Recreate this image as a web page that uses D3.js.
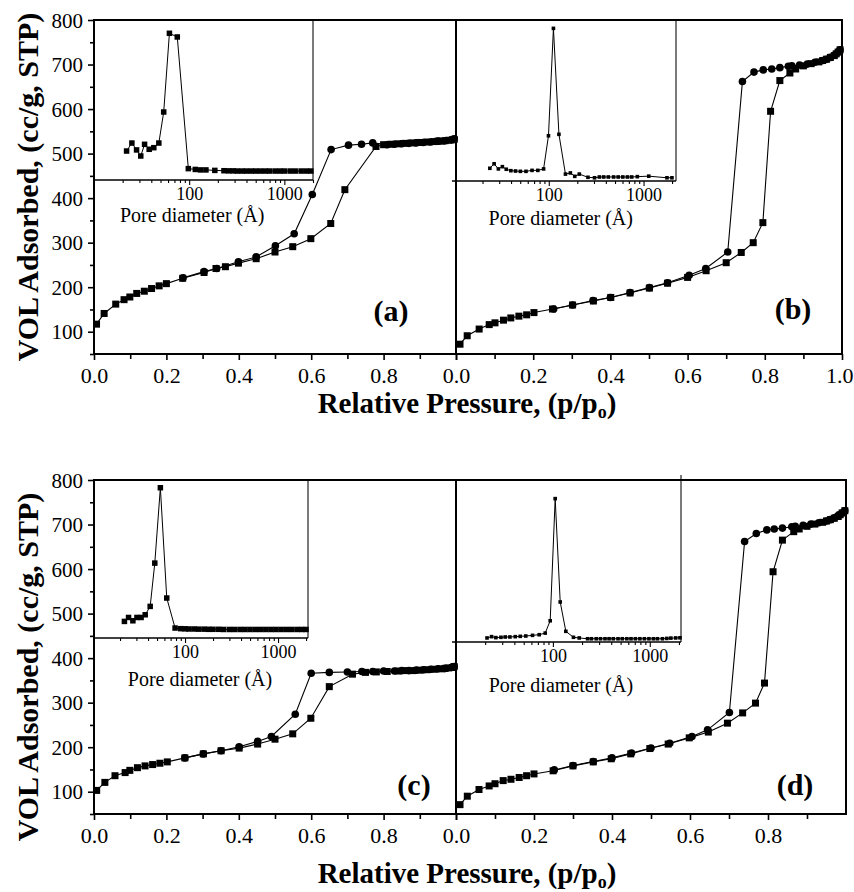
<!DOCTYPE html>
<html><head><meta charset="utf-8">
<script src="https://cdn.jsdelivr.net/npm/d3@7"></script>
<style>body{margin:0;background:#fff} svg text{font-family:"Liberation Serif","DejaVu Serif",serif;}</style>
</head><body><svg id="c" width="854" height="892"></svg>
<script>
// ---------- DATA ----------
// Main isotherms: relative pressure p/p0 and volume adsorbed (cc/g, STP)
const adsA_p = [0.007,0.028,0.06,0.083,0.099,0.118,0.139,0.159,0.18,0.2,0.245,0.304,0.337,0.363,0.399,0.448,0.5,0.549,0.599,0.654,0.693,0.779,0.80,0.82,0.84,0.86,0.88,0.90,0.92,0.94,0.95,0.96,0.97,0.98,0.99,0.995];
const adsA_v = [117,141,162,172,178,186,191,197,203,208,220,233,242,246,254,264,279,291,309,343,419,516,520,521,522,523,524,525,526,527,528,528,529,530,531,532];
const desA_p = [0.995,0.99,0.97,0.95,0.93,0.91,0.89,0.87,0.85,0.83,0.81,0.77,0.739,0.703,0.655,0.603,0.553,0.501,0.448,0.399,0.339,0.304,0.246];
const desA_v = [533,531,529,528,526,525,524,523,522,521,520,524,521,519,509,408,320,293,268,257,242,235,221];

const adsB_p = [0.0104,0.029,0.06,0.086,0.101,0.123,0.142,0.163,0.183,0.202,0.25,0.302,0.356,0.401,0.451,0.501,0.548,0.6,0.648,0.7,0.739,0.77,0.795,0.815,0.839,0.865,0.88,0.9,0.92,0.94,0.95,0.96,0.97,0.98,0.985,0.99,0.995];
const adsB_v = [72,91,106,116,120,126,131,135,138,143,151,160,169,177,187,198,209,222,237,255,278,300,345,595,664,681,690,697,702,706,709,712,716,720,724,728,733];
const desB_p = [0.995,0.99,0.98,0.97,0.96,0.95,0.93,0.91,0.89,0.87,0.861,0.839,0.818,0.796,0.772,0.742,0.704,0.647,0.604,0.548,0.501,0.451,0.4,0.355,0.302,0.253];
const desB_v = [733,728,721,716,712,709,705,701,699,697,696,693,690,688,683,662,279,242,227,210,199,188,177,170,160,151];

const adsC_p = [0.0074,0.03,0.058,0.086,0.099,0.12,0.141,0.162,0.182,0.2025,0.251,0.302,0.351,0.401,0.452,0.5,0.549,0.599,0.65,0.714,0.75,0.78,0.81,0.84,0.86,0.88,0.9,0.92,0.94,0.96,0.97,0.98,0.99,0.995];
const adsC_v = [103,121,136,143,148,154,158,161,164,167,176,185,192,198,207,218,230,265,336,364,368,369,370,371,372,372,373,374,375,376,377,378,379,381];
const desC_p = [0.995,0.99,0.97,0.95,0.93,0.91,0.89,0.87,0.85,0.83,0.8,0.77,0.74,0.7,0.65,0.6,0.556,0.49,0.452,0.401,0.351,0.302,0.251];
const desC_v = [381,380,377,376,375,374,373,372,372,371,371,370,370,369,368,366,274,224,213,201,192,185,176];

const adsD_p = [0.0103,0.029,0.059,0.085,0.1,0.121,0.141,0.162,0.181,0.2,0.249,0.3,0.352,0.398,0.448,0.497,0.544,0.598,0.647,0.696,0.735,0.768,0.791,0.813,0.837,0.866,0.88,0.9,0.92,0.94,0.95,0.96,0.97,0.98,0.985,0.99,0.997];
const adsD_v = [71,90,105,113,118,125,128,132,136,140,147,158,167,174,185,197,207,221,234,254,277,299,344,594,665,684,690,696,701,705,708,711,714,718,722,726,731];
const desD_p = [0.997,0.99,0.98,0.97,0.96,0.95,0.93,0.91,0.89,0.87,0.861,0.837,0.816,0.797,0.77,0.74,0.701,0.645,0.605,0.548,0.5,0.45,0.4,0.352,0.3,0.252];
const desD_v = [731,726,720,715,711,708,704,701,698,696,695,692,690,688,680,662,278,239,224,209,198,187,176,168,159,149];

// Insets: pore diameter (Å) and relative pore-size distribution (a.u.)
const poreA_d = [22,25,28,31,34,38,42.5,48,54,62,75,98,116,132,150,186,232,260,290,320,360,400,450,500,560,630,700,800,900,1000,1150,1300,1500,1700,1900];
const poreA_h = [0.181,0.231,0.188,0.15,0.223,0.192,0.202,0.231,0.425,0.917,0.894,0.071,0.066,0.063,0.063,0.06,0.058,0.057,0.057,0.056,0.056,0.056,0.056,0.056,0.056,0.056,0.056,0.056,0.056,0.056,0.056,0.056,0.056,0.056,0.056];

const poreB_d = [23.9,26.5,29.4,32.4,35.6,39.8,44.6,50.2,57.5,66.6,76.7,88.2,99.3,112,128,150,169,188,210,259,304,342,380,425,483,540,604,676,750,860,1135,1766,1994];
const poreB_h = [0.079,0.107,0.075,0.089,0.073,0.064,0.062,0.06,0.06,0.066,0.066,0.075,0.281,0.948,0.29,0.043,0.05,0.029,0.043,0.023,0.02,0.025,0.025,0.025,0.025,0.025,0.025,0.025,0.025,0.027,0.03,0.02,0.02];

const poreC_d = [22.3,24.7,27.5,30.4,33.7,37.3,42.2,47.3,54.3,63.6,78.2,90,100,110,125,140,160,180,200,230,260,300,340,390,440,500,570,650,740,840,950,1080,1230,1400,1600,1800,2000];
const poreC_h = [0.105,0.13,0.109,0.13,0.13,0.147,0.2,0.474,0.951,0.253,0.063,0.059,0.058,0.057,0.057,0.056,0.056,0.055,0.055,0.055,0.054,0.054,0.054,0.054,0.054,0.054,0.054,0.054,0.054,0.054,0.054,0.054,0.054,0.054,0.054,0.054,0.054];

const poreD_d = [20.9,23.3,25.8,29.1,32.2,36,40.9,46,52.5,61.6,72.2,83.3,93.8,105.6,119,136,163,187,228,250,280,310,345,380,420,470,520,580,640,710,790,880,980,1090,1200,1350,1500,1650,1850,2050];
const poreD_h = [0.025,0.033,0.027,0.029,0.031,0.031,0.033,0.035,0.037,0.041,0.045,0.055,0.131,0.885,0.247,0.066,0.029,0.025,0.02,0.02,0.02,0.02,0.02,0.02,0.02,0.02,0.02,0.02,0.02,0.02,0.02,0.02,0.02,0.02,0.02,0.02,0.022,0.024,0.025,0.026];

const xTicks = [0,0.1,0.2,0.3,0.4,0.5,0.6,0.7,0.8,0.9,1.0];
const yTicks = [50,100,150,200,250,300,350,400,450,500,550,600,650,700,750,800];
const poreTicks = [20,30,40,50,60,70,80,90,100,200,300,400,500,600,700,800,900,1000,2000];
const poreLabels = [100,1000];
const panelLetters = ["(a)","(b)","(c)","(d)"];

// ---------- LAYOUT ----------
const svg = d3.select('#c');

const panels = [
  {k:0, x0:94,  x1:456, top:20,  bot:354, yaxis:true,  xlab:[0,0.2,0.4,0.6,0.8], xt:xTicks,
   ads:[adsA_p,adsA_v], des:[desA_p,desA_v], pore:[poreA_d,poreA_h],
   ins:{x1:313, bot:180, dom:[10,2000], ms:5.5, ext:0, top:0, labY:42, labDx:3}, lab:[391,321]},
  {k:1, x0:456, x1:842, top:20,  bot:354, yaxis:false, xlab:[0,0.2,0.4,0.6,0.8,1.0], xt:xTicks,
   ads:[adsB_p,adsB_v], des:[desB_p,desB_v], pore:[poreB_d,poreB_h],
   ins:{x1:676, bot:181, dom:[10.5,2200], ms:3.6, ext:4, top:0, labY:44, labDx:12}, lab:[793,319]},
  {k:2, x0:94,  x1:456, top:480, bot:814, yaxis:true,  xlab:[0,0.2,0.4,0.6,0.8], xt:xTicks,
   ads:[adsC_p,adsC_v], des:[desC_p,desC_v], pore:[poreC_d,poreC_h],
   ins:{x1:308, bot:638, dom:[10.5,2100], ms:5.5, ext:0, top:0, labY:48, labDx:15}, lab:[414,795]},
  {k:3, x0:456, x1:846, top:480, bot:814, yaxis:false, xlab:[0,0.2,0.4,0.6,0.8], xt:xTicks.slice(0,10),
   ads:[adsD_p,adsD_v], des:[desD_p,desD_v], pore:[poreD_d,poreD_h],
   ins:{x1:681, bot:642, dom:[10,2100], ms:3.6, ext:4, top:5, labY:50, labDx:8}, lab:[795,795]}
];

const fmt = d3.format('.1f');

panels.forEach(P => {
  const g = svg.append('g');
  const x = d3.scaleLinear().domain([0,1]).range([P.x0, P.x1]);
  const y = d3.scaleLinear().domain([50,800]).range([P.bot, P.top]);

  // x axis
  const xa = g.append('g').attr('transform', `translate(0,${P.bot})`)
    .call(d3.axisBottom(x).tickValues(P.xt).tickSize(5)
      .tickFormat(d => P.xlab.some(v => Math.abs(v-d)<1e-9) ? fmt(d) : ''));
  xa.select('.domain').remove();
  xa.attr('font-family', null);
  xa.selectAll('.tick line').attr('stroke','#000').attr('stroke-width',1.6)
    .attr('y2', d => (Math.round(d*10)%2===0) ? 6 : 5);
  xa.selectAll('.tick text').attr('font-size',22)
    .attr('fill','#000').attr('y',29).attr('dy',0);
  // keep the last label inside the picture
  xa.selectAll('.tick text').filter(d => x(d) > 835)
    .attr('text-anchor','end').attr('x', 853 - x(1));

  if (P.yaxis) {
    const ya = g.append('g').attr('transform', `translate(${P.x0},0)`)
      .call(d3.axisLeft(y).tickValues(yTicks).tickSize(5)
        .tickFormat(d => d%100===0 ? d : ''));
    ya.select('.domain').remove();
    ya.attr('font-family', null);
    ya.selectAll('.tick line').attr('stroke','#000').attr('stroke-width',1.6)
      .attr('x2', d => d%100===0 ? -6 : -4);
    ya.selectAll('.tick text').attr('font-size',21)
      .attr('fill','#000').attr('x',-11).attr('dy','0.34em');
  }

  // inset
  const I = P.ins;
  const xi = d3.scaleLog().domain(I.dom).range([P.x0, I.x1]);
  const yi = d3.scaleLinear().domain([0,1]).range([I.bot, P.top]);
  g.append('line').attr('x1', I.x1).attr('x2', I.x1).attr('y1', P.top - I.top).attr('y2', I.bot)
    .attr('stroke','#222').attr('stroke-width',1.2);
  const ia = g.append('g').attr('transform', `translate(0,${I.bot})`)
    .call(d3.axisBottom(xi).tickValues(poreTicks.filter(t => t>=I.dom[0] && t<=I.dom[1])).tickSize(3)
      .tickFormat(d => poreLabels.includes(d) ? d : ''));
  ia.select('.domain').remove();
  ia.attr('font-family', null);
  ia.selectAll('.tick line').attr('stroke','#000').attr('stroke-width',1.1)
    .attr('y2', d => poreLabels.includes(d) ? 5 : 3);
  ia.selectAll('.tick text').attr('font-size',18)
    .attr('fill','#000').attr('y',20).attr('dy',0);
  g.append('line').attr('x1', P.x0 - I.ext).attr('x2', I.x1).attr('y1', I.bot).attr('y2', I.bot)
    .attr('stroke','#000').attr('stroke-width',1.4);
  g.append('text').attr('x', xi(100) + I.labDx).attr('y', I.bot + I.labY)
    .attr('text-anchor','middle').attr('font-size',20)
    .text('Pore diameter (Å)');

  const pd = P.pore[0].map((d,i) => [d, P.pore[1][i]]);
  g.append('path').datum(pd).attr('fill','none').attr('stroke','#000').attr('stroke-width',1)
    .attr('d', d3.line().x(d => xi(d[0])).y(d => yi(d[1])));
  g.selectAll(null).data(pd).join('rect')
    .attr('x', d => xi(d[0]) - I.ms/2).attr('y', d => yi(d[1]) - I.ms/2)
    .attr('width', I.ms).attr('height', I.ms).attr('fill','#000');

  // isotherms
  const ads = P.ads[0].map((p,i) => [p, P.ads[1][i]]);
  const des = P.des[0].map((p,i) => [p, P.des[1][i]]);
  const ln = d3.line().x(d => x(d[0])).y(d => y(d[1]));
  g.append('path').datum(ads).attr('fill','none').attr('stroke','#000').attr('stroke-width',1.1).attr('d', ln);
  g.append('path').datum(des).attr('fill','none').attr('stroke','#000').attr('stroke-width',1.1).attr('d', ln);
  g.selectAll(null).data(des).join('circle')
    .attr('cx', d => x(d[0])).attr('cy', d => y(d[1])).attr('r', 3.8).attr('fill','#000');
  g.selectAll(null).data(ads).join('rect')
    .attr('x', d => x(d[0]) - 3.5).attr('y', d => y(d[1]) - 3.5)
    .attr('width', 7).attr('height', 7).attr('fill','#000');

  // frame
  g.append('rect').attr('x', P.x0).attr('y', P.top).attr('width', P.x1 - P.x0).attr('height', P.bot - P.top)
    .attr('fill','none').attr('stroke','#000').attr('stroke-width',2);

  // panel letter
  g.append('text').attr('x', P.lab[0]).attr('y', P.lab[1]).attr('text-anchor','middle')
    .attr('font-size',30).attr('font-weight','bold')
    .text(panelLetters[P.k]);
});

// axis titles
[[187, 413],[667, 883]].forEach(([yc, xb]) => {
  svg.append('text').attr('transform', `translate(38,${yc}) rotate(-90)`)
    .attr('text-anchor','middle').attr('font-size',30).attr('font-weight','bold')
    .text('VOL Adsorbed, (cc/g, STP)');
  const t = svg.append('text').attr('x', 467).attr('y', xb).attr('text-anchor','middle')
    .attr('font-size',29).attr('font-weight','bold');
  t.append('tspan').text('Relative Pressure, (p/p');
  t.append('tspan').attr('font-size',18).attr('dy',5).text('o');
  t.append('tspan').attr('dy',-5).text(')');
});
</script></body></html>
